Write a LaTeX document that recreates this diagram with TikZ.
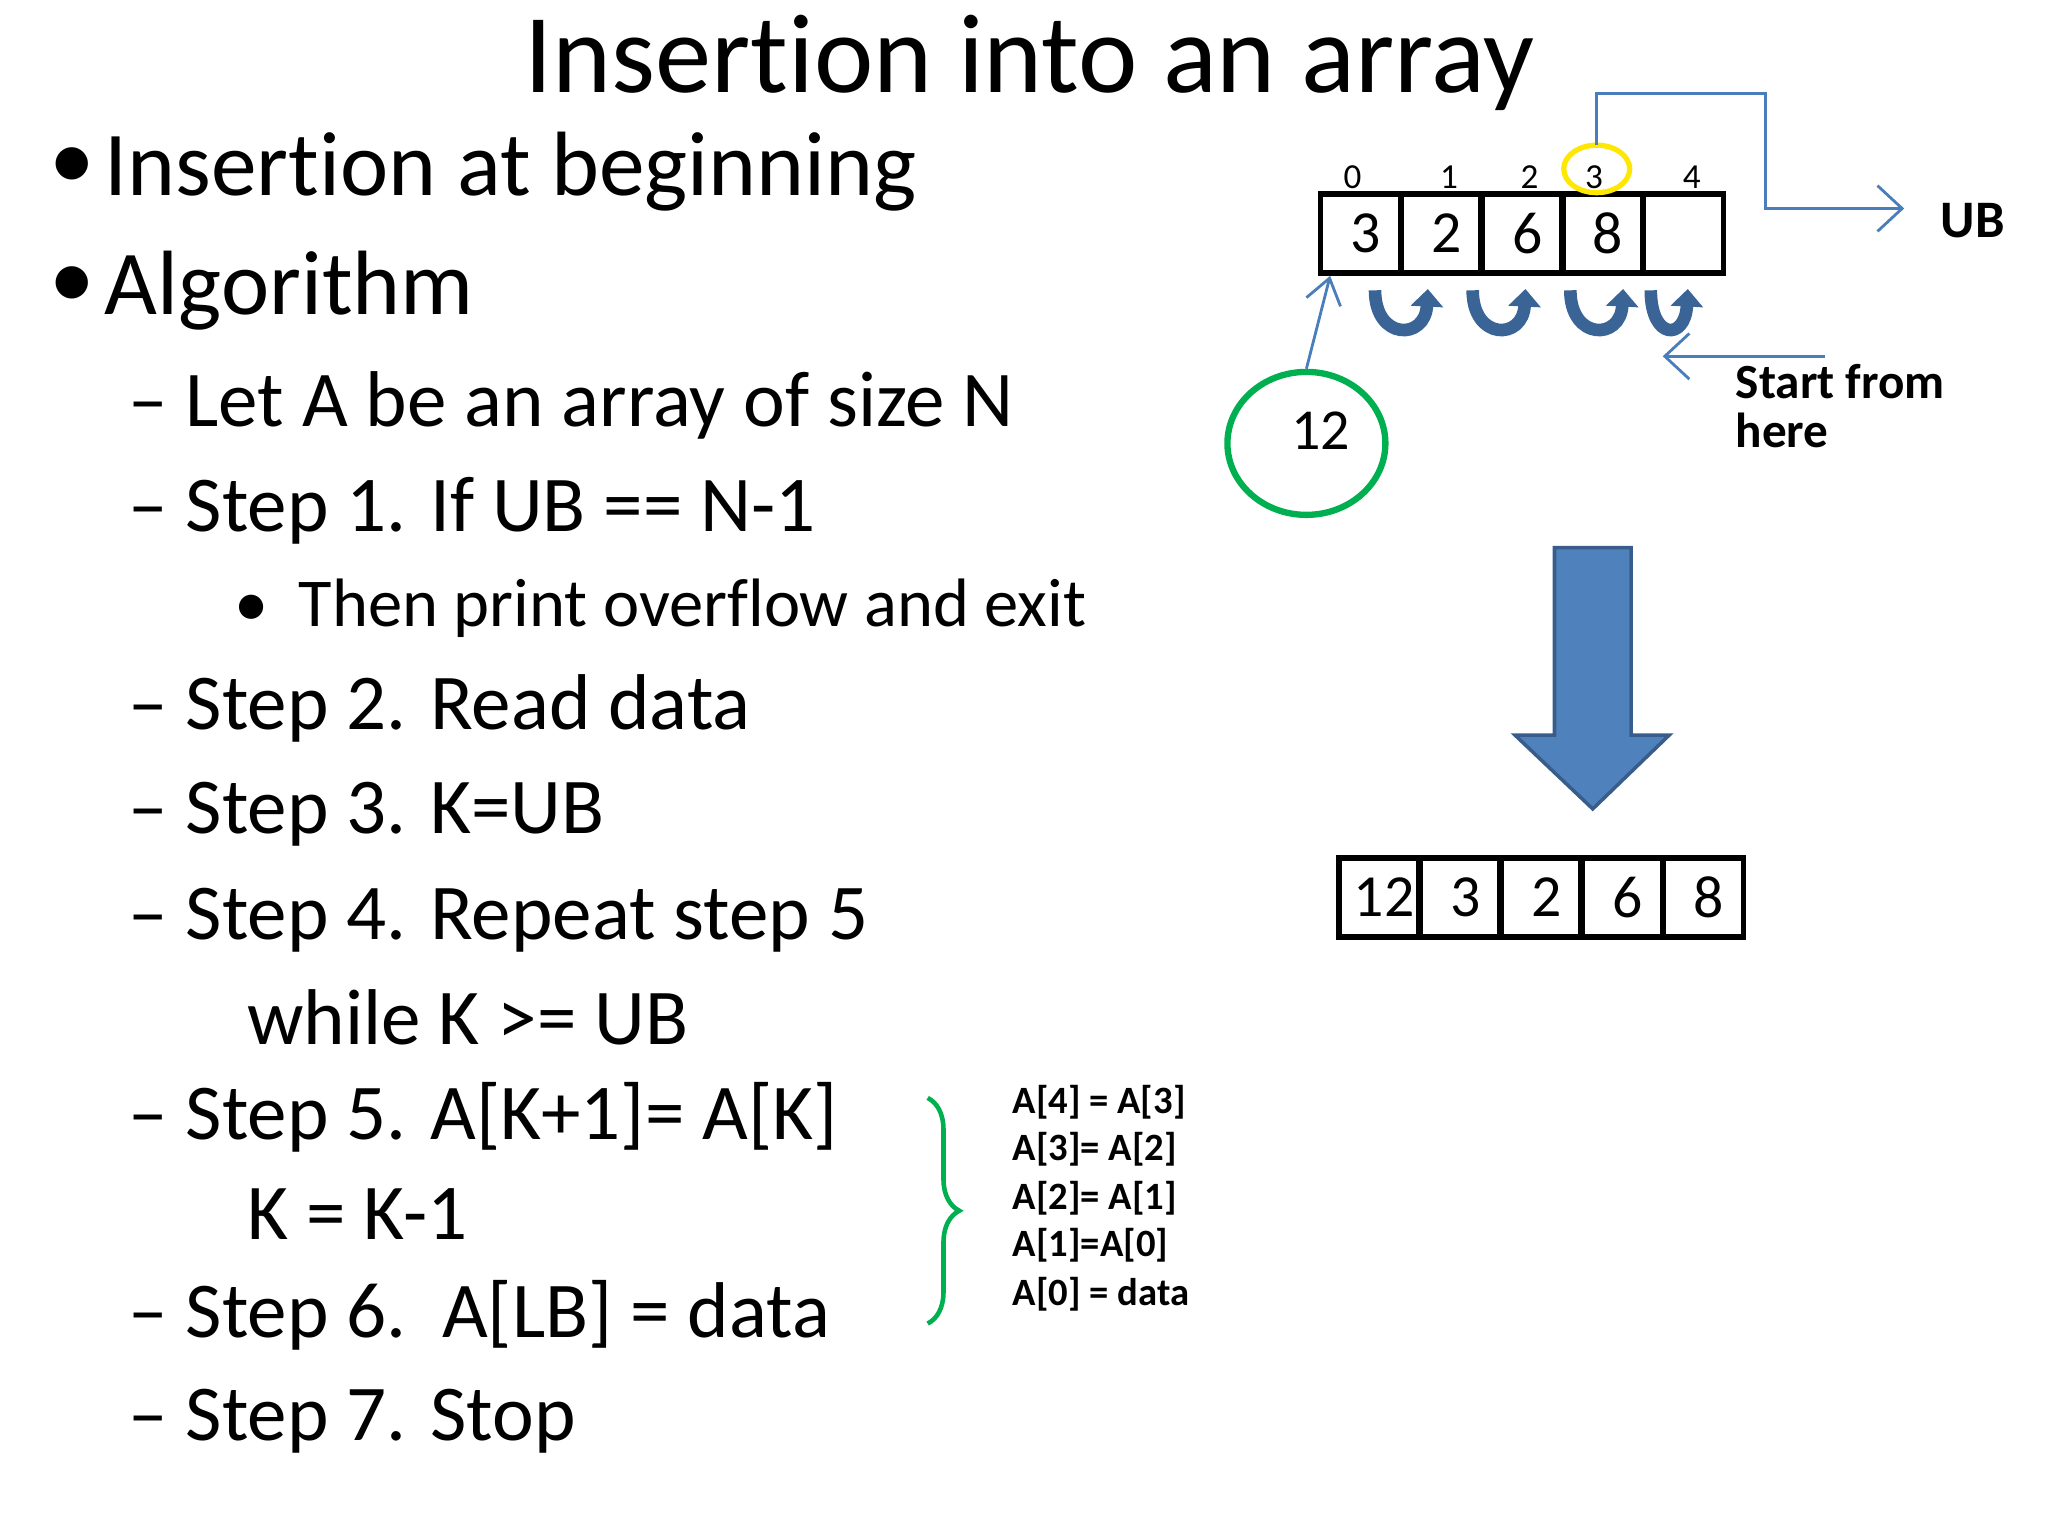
\documentclass[tikz,border=0pt]{standalone}
\usepackage{fontspec}
\setmainfont{Carlito}[Ligatures=NoCommon]
\usetikzlibrary{arrows.meta,shapes.geometric,decorations.pathreplacing}
\definecolor{lb}{HTML}{4A7EBB}
\definecolor{db}{HTML}{3A6496}
\definecolor{af}{HTML}{4F81BD}
\definecolor{as}{HTML}{385D8A}
\definecolor{gr}{HTML}{00B050}
\begin{document}
\begin{tikzpicture}[x=0.0131959cm,y=-0.0131959cm,
  l1/.style={anchor=west,font=\fontsize{26}{28}\selectfont},
  l2/.style={anchor=west,font=\fontsize{22.5}{25}\selectfont},
  l3/.style={anchor=west,font=\fontsize{19.5}{22}\selectfont},
  cell/.style={draw,line width=1.6pt,minimum width=0.80cm,minimum height=0.79cm,inner sep=0pt,font=\fontsize{17}{19}\selectfont},
  idx/.style={font=\fontsize{10}{11}\selectfont},
  asg/.style={anchor=west,font=\bfseries\fontsize{11}{12}\selectfont},
  uarr/.style={db,line width=3.6pt,-{Triangle[length=5pt,width=9pt]}},
  thin/.style={lb,line width=0.8pt}]
\useasboundingbox (0,0) rectangle (1552,1164);
\node (title) at (780,48) {\fontsize{32}{34}\selectfont Insertion into an array};
\node[l1,font=\fontsize{26}{28}\selectfont] (d1) at (28,128) {\textbullet};
\node[l1] (b1) at (70,130) {Insertion at beginning};
\node[l1] (d2) at (28,218) {\textbullet};
\node[l1] (b2) at (70,220) {Algorithm};
\node[l2] (s0) at (88,307) {-- Let A be an array of size N};
\node[l2] (s1) at (88,387) {-- Step 1. If UB == N-1};
\node[l3] (s1a) at (168,461) {\textbullet\hspace{0.45em}Then print overflow and exit};
\node[l2] (s2) at (88,537) {-- Step 2. Read data};
\node[l2] (s3) at (88,617) {-- Step 3. K=UB};
\node[l2] (s4) at (88,697) {-- Step 4. Repeat step 5};
\node[l2] (s4a) at (178,771) {while K >= UB};
\node[l2] (s5) at (88,847) {-- Step 5. A[K+1]= A[K]};
\node[l2] (s5a) at (178,920) {K = K-1};
\node[l2] (s6) at (88,997) {-- Step 6.\ \ A[LB] = data};
\node[l2] (s7) at (88,1077) {-- Step 7. Stop};
\draw[gr,line width=1.3pt,decorate,decoration={brace,amplitude=9pt,aspect=0.5}] (703,832) -- (703,1003);
\node[asg] (a1) at (758,835) {A[4] = A[3]};
\node[asg] (a2) at (758,871) {A[3]= A[2]};
\node[asg] (a3) at (758,908) {A[2]= A[1]};
\node[asg] (a4) at (758,944) {A[1]=A[0]};
\node[asg] (a5) at (758,981) {A[0] = data};
% top array
\foreach \v [count=\i from 0] in {3,2,6,8,{}} {
  \node[cell] (t\i) at ({1031+61.2*\i},177) {\hspace{3pt}\v};
}
\foreach \v/\x in {0/1025,1/1098,2/1159,3/1208,4/1282} \node[idx] (i\v) at (\x,134) {\v};
\draw[yellow!90!orange,line width=1.5pt] (1210,128) ellipse (25 and 18);
\coordinate (ub1) at (1210,110);
\node[font=\bfseries\fontsize{15}{16}\selectfont] (ub) at (1495,167) {UB};
\draw[thin,-{Straight Barb[length=7pt,width=13pt]}] (ub1) |- (1338,71) |- (1443,158);
\node[draw=gr,line width=1.8pt,ellipse,minimum width=1.58cm,minimum height=1.43cm] (c) at (990,336) {};
\node[font=\fontsize{16.5}{18}\selectfont] at (1001,326) {12};
\draw[thin,-{Straight Barb[length=7pt,width=10pt]}] (c.north) -- (1008,209);
\foreach \c/\w in {1062/20,1136/20,1210/20,1265/14} {
  \draw[uarr] (\c-\w,220) .. controls (\c-\w,258) and (\c+\w-2,258) .. (\c+\w,219);
}
\node[anchor=west,font=\bfseries\fontsize{14}{15}\selectfont,align=left] (st) at (1306,308) {Start from\\[-1pt]here};
\draw[thin,-{Straight Barb[length=7pt,width=13pt]}] (1383,270) -- (1260,270);
\draw[fill=af,draw=as,line width=1pt] (1178,415) -- (1236,415) -- (1236,557) -- (1265,557) -- (1207,613) -- (1148,557) -- (1178,557) -- cycle;
\foreach \v [count=\i from 0] in {12,3,2,6,8} {
  \node[cell] (b\i) at ({1045+61.5*\i},680) {\hspace{3pt}\v};
}
\end{tikzpicture}
\end{document}
